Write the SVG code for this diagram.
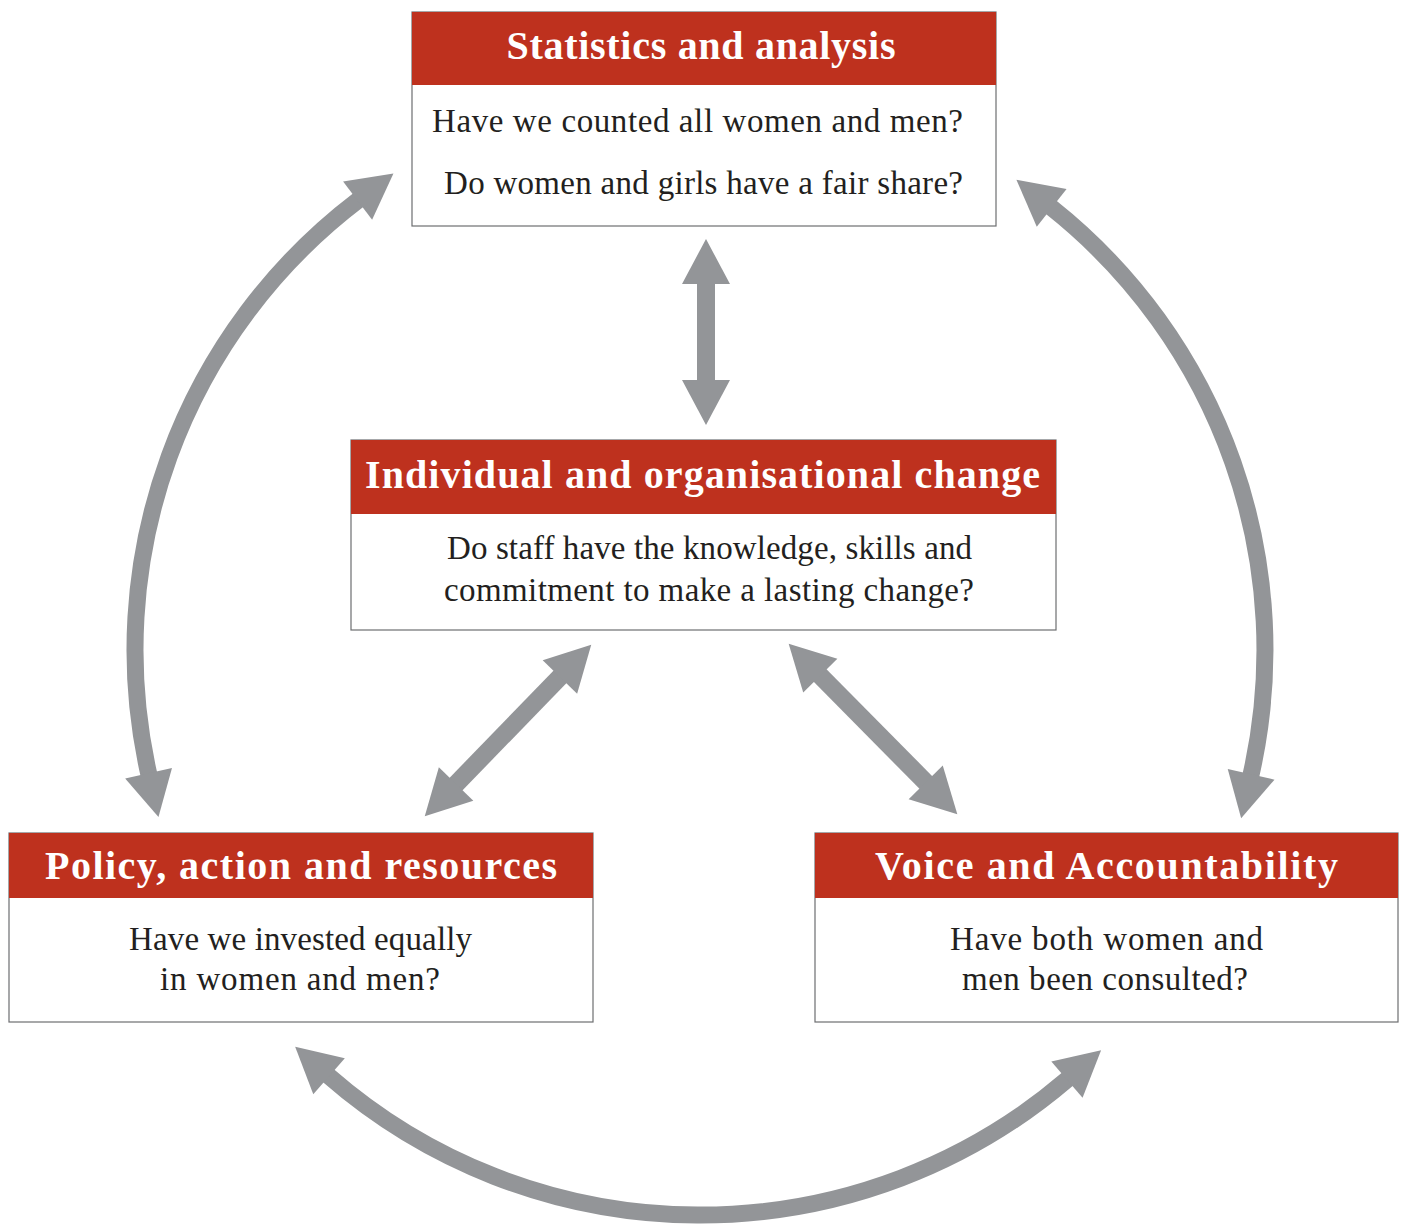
<svg xmlns="http://www.w3.org/2000/svg" width="1406" height="1230" viewBox="0 0 1406 1230">
<style>
.box{fill:#fff;stroke:#6d6e71;stroke-width:1.2}
.hdr{fill:#be311e}
.title{font-family:"Liberation Serif",serif;font-weight:bold;font-size:40px;fill:#fff;text-anchor:middle}
.body{font-family:"Liberation Serif",serif;font-size:33px;fill:#231f20;text-anchor:middle}
.arr{fill:none;stroke:#939598;stroke-width:18;marker-start:url(#head);marker-end:url(#head)}
.arc{stroke-width:17}
</style>
<defs>
<marker id="head" markerUnits="userSpaceOnUse" viewBox="-2 -25 48 50" refX="1" refY="0" markerWidth="48" markerHeight="50" orient="auto-start-reverse">
<path d="M0,-24 L45,0 L0,24 Z" fill="#939598"/>
</marker>
</defs>
<rect width="1406" height="1230" fill="#fff"/>
<g id="connectors">
<path class="arr arc" d="M358.4,200 A565,565 0 0 0 148.8,774.2"/>
<path class="arr arc" d="M1050.9,207.2 A565,565 0 0 1 1250.9,775.3"/>
<path class="arr arc" d="M1067.7,1079 A565,565 0 0 1 328.3,1075.6"/>
<line class="arr" x1="706" y1="283" x2="706" y2="381"/>
<line class="arr" x1="560.6" y1="676.3" x2="455.4" y2="784.7"/>
<line class="arr" x1="819.6" y1="675" x2="926.4" y2="783"/>
</g>
<g id="statistics">
<rect class="box" x="412" y="12" width="584" height="214"/>
<rect class="hdr" x="412" y="12" width="584" height="73"/>
<text class="title" x="701" y="59" textLength="389">Statistics and analysis</text>
<text class="body" x="697.5" y="132" textLength="531">Have we counted all women and men?</text>
<text class="body" x="703.5" y="194" textLength="519">Do women and girls have a fair share?</text>
</g>
<g id="individual">
<rect class="box" x="351" y="440" width="705" height="190"/>
<rect class="hdr" x="351" y="440" width="705" height="74"/>
<text class="title" x="702.5" y="488" textLength="675">Individual and organisational change</text>
<text class="body" x="709.5" y="559" textLength="525">Do staff have the knowledge, skills and</text>
<text class="body" x="709" y="601" textLength="530">commitment to make a lasting change?</text>
</g>
<g id="policy">
<rect class="box" x="9" y="833" width="584" height="189"/>
<rect class="hdr" x="9" y="833" width="584" height="65"/>
<text class="title" x="301" y="879" textLength="512">Policy, action and resources</text>
<text class="body" x="300.5" y="950" textLength="343">Have we invested equally</text>
<text class="body" x="300" y="990" textLength="280">in women and men?</text>
</g>
<g id="voice">
<rect class="box" x="815" y="833" width="583" height="189"/>
<rect class="hdr" x="815" y="833" width="583" height="65"/>
<text class="title" x="1106.5" y="879" textLength="463">Voice and Accountability</text>
<text class="body" x="1106.5" y="950" textLength="313">Have both women and</text>
<text class="body" x="1105" y="990" textLength="286">men been consulted?</text>
</g>
</svg>
